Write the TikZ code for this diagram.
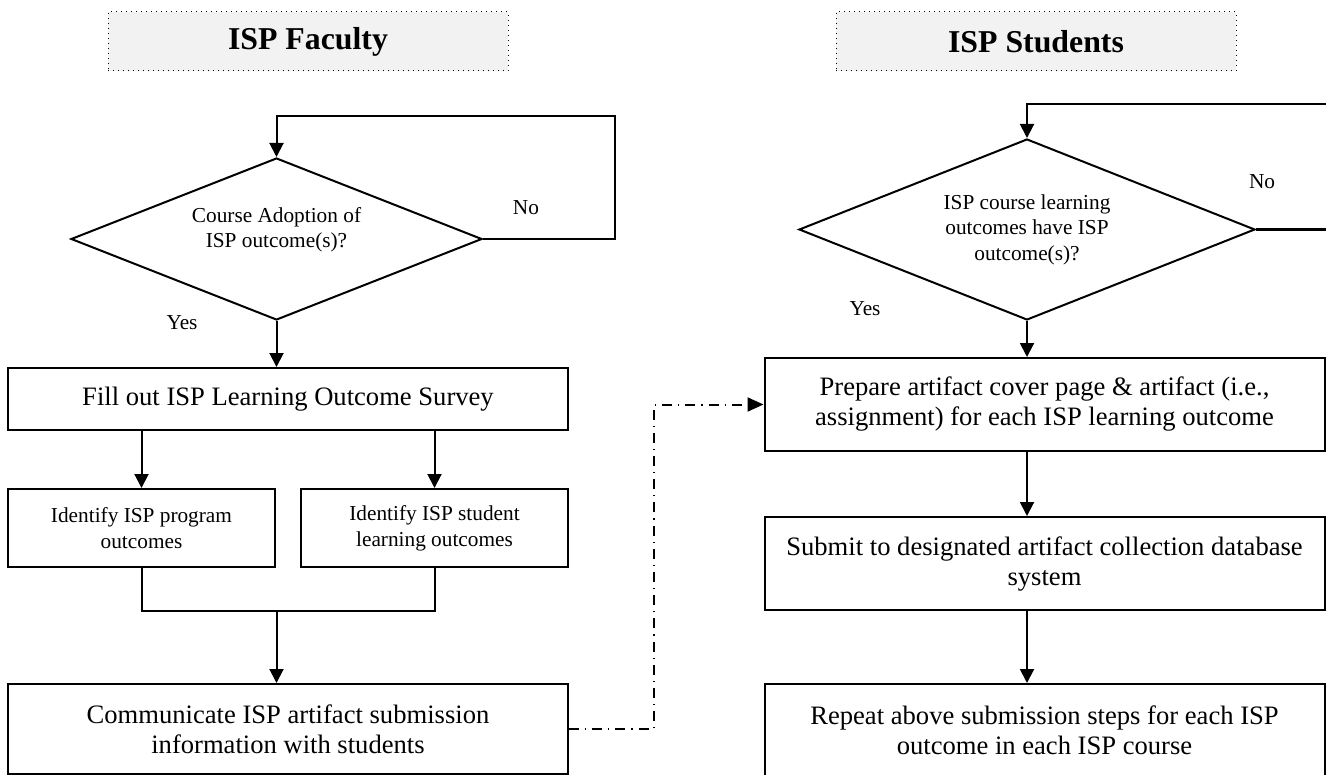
\documentclass[tikz,border=0pt]{standalone}
\usepackage{fontspec}
\setmainfont{Liberation Serif}
\usetikzlibrary{calc,shapes.geometric,arrows.meta}
\definecolor{hdrgray}{HTML}{F2F2F2}
\tikzset{
	hdrbox/.style={draw,dotted,line width=0.5pt,fill=hdrgray,minimum width=200pt,minimum height=29.5pt,font=\bfseries\fontsize{15.9}{18}\selectfont},
	bigbox/.style={draw,line width=1pt,align=center,inner sep=0pt,minimum width=280pt,font=\fontsize{13.3}{15}\selectfont},
	smallbox/.style={draw,line width=1pt,align=center,inner sep=0pt,minimum width=133.5pt,minimum height=39pt,font=\fontsize{10.65}{13}\selectfont},
	decision/.style={draw,diamond,aspect=2.5,line width=1pt,align=center,inner sep=0pt,font=\fontsize{10.65}{12.8}\selectfont},
	answer/.style={font=\fontsize{10.65}{12.8}\selectfont},
	arr/.style={line width=1pt,-{Triangle[length=7pt,width=7pt]}},
	plain/.style={line width=1pt},
	link/.style={line width=1pt,dash pattern=on 5pt off 3pt on 0.6pt off 3pt,-{Triangle[length=8pt,width=7pt]}}
}
\newcommand{\isparrow}[2]{\draw[arr] (#1) -- (#2);}

\begin{document}
\begin{tikzpicture}[x=0.5pt,y=-0.5pt]
	\useasboundingbox (0,0) rectangle (1326,775);
	
	% faculty column
	\node[hdrbox] (hdrL) at (308,41.5) {ISP Faculty};
	\node[decision,minimum width=205.5pt,minimum height=81pt] (dL) at (276.5,239) {Course Adoption of\\ISP outcome(s)?\rule[-11.5pt]{0pt}{0pt}};
	\node[bigbox,minimum height=31pt] (fill) at (288,399) {Fill out ISP Learning Outcome Survey};
	\node[smallbox] (prog) at (141.5,528) {Identify ISP program\\outcomes};
	\node[smallbox] (stud) at (434.5,528) {Identify ISP student\\learning outcomes};
	\node[bigbox,minimum height=45pt] (comm) at (288,729) {Communicate ISP artifact submission\\information with students};
	
	\coordinate (loopL) at (615,116);
	\coordinate (mrg) at (276.5,611);
	
	\draw[arr] (dL.east) -| (loopL) -| (dL.north);
	\node[answer] (noL) at (526,208) {No};
	\node[answer] (yesL) at (182,323) {Yes};
	\isparrow{dL.south}{dL.south |- fill.north}
	\isparrow{fill.south -| prog}{prog.north}
	\isparrow{fill.south -| stud}{stud.north}
	\draw[plain] (prog.south) |- (mrg) -| (stud.south);
	\isparrow{mrg}{mrg |- comm.north}
	
	% students column
	\node[hdrbox] (hdrR) at (1036,41.5) {ISP Students};
	\node[decision,minimum width=228pt,minimum height=90.5pt] (dR) at (1027,229.5) {ISP course learning\\outcomes have ISP\\outcome(s)?};
	\node[bigbox,minimum height=46.5pt] (prep) at (1044.5,404.5) {Prepare artifact cover page \& artifact (i.e.,\\assignment) for each ISP learning outcome};
	\node[bigbox,minimum height=46.5pt] (subm) at (1044.5,563.5) {Submit to designated artifact collection database\\system};
	\node[bigbox,minimum height=46.5pt] (rept) at (1044.5,730.5) {Repeat above submission steps for each ISP\\outcome in each ISP course};
	
	\coordinate (loopR) at (1345,104);
	
	\draw[arr] (dR.east) -| (loopR) -| (dR.north);
	\node[answer] (noR) at (1262,182) {No};
	\node[answer] (yesR) at (865,309) {Yes};
	\isparrow{dR.south}{dR.south |- prep.north}
	\isparrow{prep.south -| dR.south}{subm.north -| dR.south}
	\isparrow{subm.south -| dR.south}{rept.north -| dR.south}
	
	% hand-over to students
	\draw[link] (comm.east) -- ++(85,0) |- (prep.west);
\end{tikzpicture}
\end{document}
